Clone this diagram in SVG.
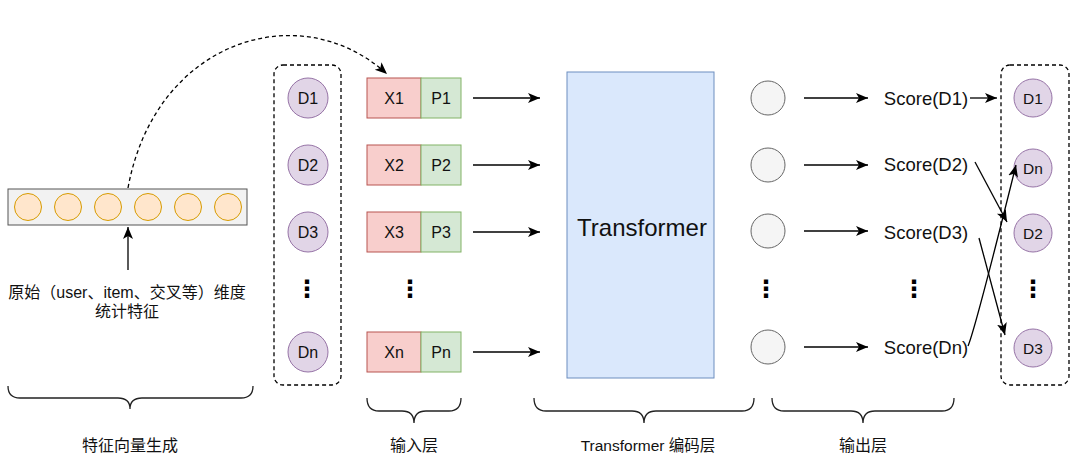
<svg xmlns="http://www.w3.org/2000/svg" width="1080" height="473" viewBox="0 0 1080 473">
<defs>
<marker id="arr" markerUnits="userSpaceOnUse" markerWidth="14" markerHeight="12" refX="12" refY="5" orient="auto">
<path d="M0,0 L12,5 L0,10 L3,5 z" fill="#000"/>
</marker>
<style>
.t{font-family:"Liberation Sans","Noto Sans CJK SC",sans-serif;fill:#111;text-anchor:middle}
.d{fill:#e1d5e7;stroke:#9673a6;stroke-width:1}
.o{fill:#f5f5f5;stroke:#666;stroke-width:1}
.f{fill:#ffe6cc;stroke:#d79b00;stroke-width:1}
.x{fill:#f8cecc;stroke:#b85450;stroke-width:1}
.p{fill:#d5e8d4;stroke:#82b366;stroke-width:1}
.ln{fill:none;stroke:#000;stroke-width:1.3}
.br{fill:none;stroke:#222;stroke-width:1.3}
.dash{fill:none;stroke:#000;stroke-width:1.3;stroke-dasharray:4 3}
.vd{font-family:"DejaVu Sans",sans-serif;font-weight:bold;font-size:24px;fill:#000;text-anchor:middle}
</style>
</defs>
<rect width="1080" height="473" fill="#fff"/>

<g id="feature-vector">
<rect x="8" y="189" width="239" height="36" fill="#f2f2f2" stroke="#555" stroke-width="1"/>
<circle class="f" cx="28" cy="207" r="13.5"/>
<circle class="f" cx="68" cy="207" r="13.5"/>
<circle class="f" cx="108" cy="207" r="13.5"/>
<circle class="f" cx="148" cy="207" r="13.5"/>
<circle class="f" cx="188" cy="207" r="13.5"/>
<circle class="f" cx="228" cy="207" r="13.5"/>
</g>

<g id="feature-label">
<text class="t" x="127" y="298" font-size="16">原始（user、item、交叉等）维度</text>
<text class="t" x="127" y="317" font-size="16">统计特征</text>
</g>

<g id="docs-left">
<rect class="dash" x="274" y="65" width="67" height="320" rx="9"/>
<circle class="d" cx="308" cy="98" r="20"/>
<text class="t" x="308" y="104" font-size="16">D1</text>
<circle class="d" cx="308" cy="165" r="20"/>
<text class="t" x="308" y="171" font-size="16">D2</text>
<circle class="d" cx="308" cy="232" r="20"/>
<text class="t" x="308" y="238" font-size="16">D3</text>
<text class="vd" x="307" y="297">⋮</text>
<circle class="d" cx="308" cy="352" r="20"/>
<text class="t" x="308" y="358" font-size="16">Dn</text>
</g>

<g id="input-layer">
<rect class="x" x="367" y="78" width="54" height="40"/><rect class="p" x="421" y="78" width="40" height="40"/>
<text class="t" x="394" y="104" font-size="16">X1</text><text class="t" x="441" y="104" font-size="16">P1</text>
<rect class="x" x="367" y="145" width="54" height="40"/><rect class="p" x="421" y="145" width="40" height="40"/>
<text class="t" x="394" y="171" font-size="16">X2</text><text class="t" x="441" y="171" font-size="16">P2</text>
<rect class="x" x="367" y="212" width="54" height="40"/><rect class="p" x="421" y="212" width="40" height="40"/>
<text class="t" x="394" y="238" font-size="16">X3</text><text class="t" x="441" y="238" font-size="16">P3</text>
<text class="vd" x="410" y="297">⋮</text>
<rect class="x" x="367" y="332" width="54" height="40"/><rect class="p" x="421" y="332" width="40" height="40"/>
<text class="t" x="394" y="358" font-size="16">Xn</text><text class="t" x="441" y="358" font-size="16">Pn</text>
</g>

<g id="transformer">
<rect x="567" y="72" width="147" height="306" fill="#dae8fc" stroke="#6c8ebf" stroke-width="1"/>
<text class="t" x="642" y="236" font-size="24">Transformer</text>
</g>

<g id="output-layer">
<circle class="o" cx="768" cy="98" r="17"/>
<circle class="o" cx="768" cy="165" r="17"/>
<circle class="o" cx="768" cy="231" r="17"/>
<text class="vd" x="766" y="297">⋮</text>
<circle class="o" cx="768" cy="347" r="17"/>
</g>

<g id="scores">
<text class="t" x="926" y="105" font-size="18.5">Score(D1)</text>
<text class="t" x="926" y="171" font-size="18.5">Score(D2)</text>
<text class="t" x="926" y="239" font-size="18.5">Score(D3)</text>
<text class="vd" x="914" y="297">⋮</text>
<text class="t" x="926" y="354" font-size="18.5">Score(Dn)</text>
</g>

<g id="docs-right">
<rect class="dash" x="1001" y="65" width="68" height="320" rx="9"/>
<circle class="d" cx="1033" cy="98" r="19"/>
<text class="t" x="1033" y="104" font-size="15.5">D1</text>
<circle class="d" cx="1033" cy="168" r="19"/>
<text class="t" x="1033" y="174" font-size="15.5">Dn</text>
<circle class="d" cx="1033" cy="233" r="19"/>
<text class="t" x="1033" y="239" font-size="15.5">D2</text>
<text class="vd" x="1033" y="297">⋮</text>
<circle class="d" cx="1033" cy="348" r="19"/>
<text class="t" x="1033" y="354" font-size="15.5">D3</text>
</g>

<g id="connectors">
<path class="dash" d="M128,188 C155,40 300,-5 387,74" marker-end="url(#arr)"/>
<path class="ln" d="M128,270 L128,227" marker-end="url(#arr)"/>
<path class="ln" d="M473,98 L540,98" marker-end="url(#arr)"/>
<path class="ln" d="M473,165 L540,165" marker-end="url(#arr)"/>
<path class="ln" d="M473,232 L540,232" marker-end="url(#arr)"/>
<path class="ln" d="M473,352 L540,352" marker-end="url(#arr)"/>
<path class="ln" d="M804,98 L868,98" marker-end="url(#arr)"/>
<path class="ln" d="M804,165 L868,165" marker-end="url(#arr)"/>
<path class="ln" d="M804,231 L868,231" marker-end="url(#arr)"/>
<path class="ln" d="M804,347 L868,347" marker-end="url(#arr)"/>
<path class="ln" d="M970,98 L997,98" marker-end="url(#arr)"/>
<path class="ln" d="M975,162 L1007,222" marker-end="url(#arr)"/>
<path class="ln" d="M979,238 L1005,335" marker-end="url(#arr)"/>
<path class="ln" d="M968,346 Q975,330 1016,165" marker-end="url(#arr)"/>
</g>

<g id="braces">
<path class="br" d="M8,386 Q8,398 20,398 L118,398 Q130,398 130,409 Q130,398 142,398 L241,398 Q253,398 253,386"/>
<path class="br" d="M367,398 Q367,411 379,411 L402,411 Q414,411 414,423 Q414,411 426,411 L449,411 Q461,411 461,398"/>
<path class="br" d="M534,398 Q534,411 546,411 L632,411 Q644,411 644,423 Q644,411 656,411 L742,411 Q754,411 754,398"/>
<path class="br" d="M772,398 Q772,411 784,411 L851,411 Q863,411 863,423 Q863,411 875,411 L942,411 Q954,411 954,398"/>
</g>

<g id="layer-labels">
<text class="t" x="130" y="451" font-size="16">特征向量生成</text>
<text class="t" x="414" y="451" font-size="16">输入层</text>
<text class="t" x="648" y="451" font-size="15.5">Transformer 编码层</text>
<text class="t" x="863" y="451" font-size="16">输出层</text>
</g>
</svg>
